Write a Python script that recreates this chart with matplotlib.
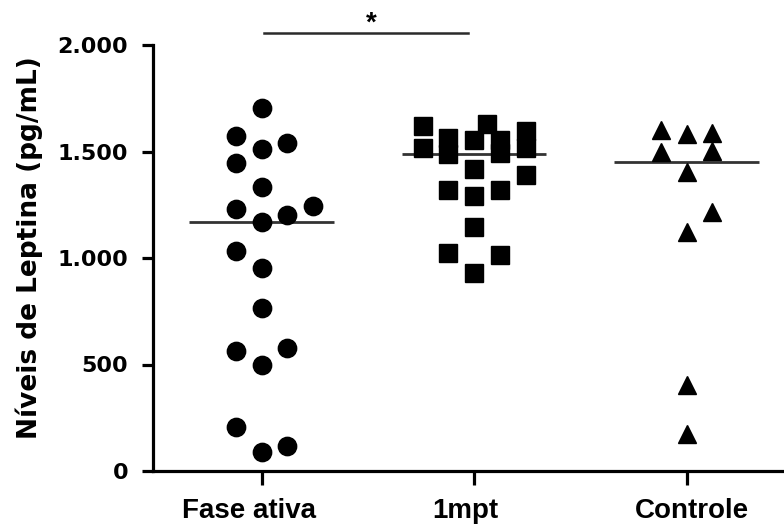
import matplotlib
matplotlib.use("Agg")
import matplotlib.pyplot as plt
import matplotlib.transforms as mtransforms
import numpy as np
from matplotlib.ticker import FuncFormatter

# values (pg/mL) and the lane each point sits in
groups = ["Fase ativa", "1mpt", "Controle"]
fase_vals = [1703, 1573, 1538, 1510, 1445, 1332, 1244, 1229, 1202, 1171,
             1034, 951, 764, 576, 565, 498, 205, 117, 91]
fase_lane = [0, -1, 1, 0, -1, 0, 2, -1, 1, 0, -1, 0, 0, 1, -1, 0, -1, 1, 0]
mpt_vals = [1628, 1620, 1595, 1562, 1552, 1552, 1516, 1515, 1493, 1488,
            1418, 1390, 1319, 1319, 1293, 1147, 1022, 1014, 928]
mpt_lane = [0.5, -2, 2, -1, 0, 1, 2, -2, 1, -1, 0, 2, -1, 1, 0, 0, -1, 1, 0]
ctrl_vals = [1601, 1585, 1582, 1504, 1499, 1405, 1217, 1122, 405, 175]
ctrl_lane = [-1, 1, 0, 1, -1, 0, 1, 0, 0, 0]
yticks = [0, 500, 1000, 1500, 2000]

W, H = 784, 524
fig = plt.figure(figsize=(W / 100, H / 100), dpi=100)
ax = fig.add_axes([153.3 / W, 1 - 471 / H, (W - 153.3) / W, 426 / H])

lane_w = 0.121
markers = ["o", "s", "^"]
sizes = [13.2, 12.5, 13.5]
for i, (vals, lanes) in enumerate([(fase_vals, fase_lane), (mpt_vals, mpt_lane), (ctrl_vals, ctrl_lane)]):
    x = i + np.asarray(lanes) * lane_w
    ax.plot(x, vals, linestyle="none", marker=markers[i], ms=sizes[i], color="black", zorder=3, clip_on=False)
    ax.hlines(np.median(vals), i - 0.34, i + 0.34, color="#333333", linewidth=2.0, zorder=2)

# significance bar
ax.plot([0.011, 0.972], [2055, 2055], color="#2a2a2a", linewidth=1.8, clip_on=False)
ax.text(0.518, 2066, "*", ha="center", va="baseline", fontsize=20, fontweight="bold",
        family="Liberation Sans")

ax.set_xlim(-0.510, 2.458)
ax.set_ylim(0, 2000)
ax.set_xticks(range(len(groups)))
ax.set_xticklabels([])
# category names, a little off their ticks as in the reference
trans = mtransforms.blended_transform_factory(ax.transData, ax.transAxes)
for i, (name, dx) in enumerate(zip(groups, [-0.061, -0.042, 0.024])):
    ax.text(i + dx, -0.110, name, transform=trans, ha="center", va="baseline",
            fontsize=20, fontweight="bold", family="Liberation Sans")

ax.set_yticks(yticks)
ax.yaxis.set_major_formatter(FuncFormatter(lambda v, p: f"{int(v):,}".replace(",", ".")))
for lab in ax.get_yticklabels():
    lab.set_fontsize(16)
    lab.set_fontweight("bold")

ax.set_ylabel("Níveis de Leptina (pg/mL)", fontsize=19, fontweight="bold")
ax.yaxis.set_label_coords(-0.175, 0.525)

for side in ["top", "right"]:
    ax.spines[side].set_visible(False)
for side in ["left", "bottom"]:
    ax.spines[side].set_linewidth(2.3)
ax.tick_params(axis="y", length=8, width=2.3, pad=10)
ax.tick_params(axis="x", length=10, width=2.3)

fig.savefig("out.png", dpi=100)
